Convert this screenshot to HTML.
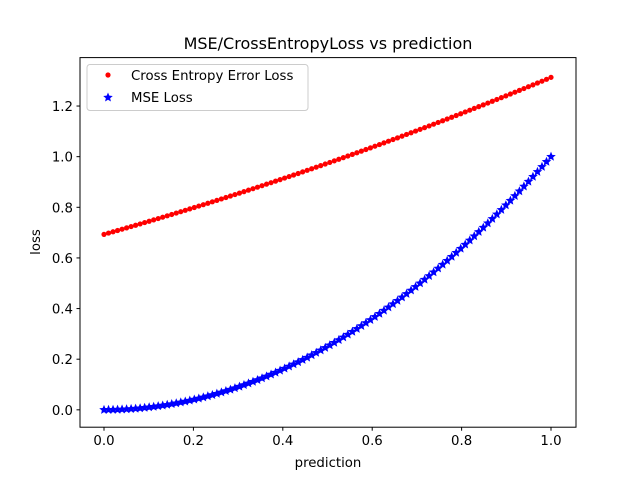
<!DOCTYPE html>
<html><head><meta charset="utf-8"><style>
body{margin:0;background:#fff;}
svg{display:block;font-family:"DejaVu Sans","Liberation Sans",sans-serif;}
</style></head><body>
<svg id="chart" width="640" height="480" xmlns="http://www.w3.org/2000/svg">
<rect width="640" height="480" fill="#fff"/>
<text x="328" y="49" font-size="16" text-anchor="middle">MSE/CrossEntropyLoss vs prediction</text>
<g id="axes"></g>
<g id="series"></g>
<rect x="80" y="57.6" width="496" height="369.6" fill="none" stroke="#000" stroke-width="1"/>
<text x="328" y="467" font-size="13.3" text-anchor="middle">prediction</text>
<text x="40" y="242" font-size="13.3" text-anchor="middle" transform="rotate(-90 40 242)">loss</text>
<g>
<rect x="87" y="64.5" width="221" height="46" rx="3" fill="#fff" fill-opacity="0.8" stroke="#ccc" stroke-width="1"/>
<circle cx="108" cy="75" r="2.6" fill="#f00"/>
<text x="131" y="80" font-size="13.3">Cross Entropy Error Loss</text>
<polygon id="lgstar" fill="#00f"/>
<text x="131" y="102" font-size="13.3">MSE Loss</text>
</g>
</svg>
<script>
const xTicks=[0,0.2,0.4,0.6,0.8,1.0];
const xTickLabels=["0.0","0.2","0.4","0.6","0.8","1.0"];
const yTicks=[0,0.2,0.4,0.6,0.8,1.0,1.2];
const yTickLabels=["0.0","0.2","0.4","0.6","0.8","1.0","1.2"];
const predictions=[0,.0101,.0202,.0303,.0404,.0505,.0606,.0707,.0808,.0909,.1010,.1111,.1212,.1313,.1414,.1515,.1616,.1717,.1818,.1919,.2020,.2121,.2222,.2323,.2424,.2525,.2626,.2727,.2828,.2929,.3030,.3131,.3232,.3333,.3434,.3535,.3636,.3737,.3838,.3939,.4040,.4141,.4242,.4343,.4444,.4545,.4646,.4747,.4848,.4949,.5051,.5152,.5253,.5354,.5455,.5556,.5657,.5758,.5859,.5960,.6061,.6162,.6263,.6364,.6465,.6566,.6667,.6768,.6869,.6970,.7071,.7172,.7273,.7374,.7475,.7576,.7677,.7778,.7879,.7980,.8081,.8182,.8283,.8384,.8485,.8586,.8687,.8788,.8889,.8990,.9091,.9192,.9293,.9394,.9495,.9596,.9697,.9798,.9899,1];
const crossEntropyLoss=[.6931,.6982,.7033,.7084,.7135,.7187,.7239,.7291,.7343,.7397,.7449,.7502,.7555,.7609,.7663,.7717,.7772,.7826,.7881,.7937,.7992,.8048,.8104,.8160,.8217,.8274,.8330,.8387,.8445,.8503,.8560,.8619,.8677,.8736,.8795,.8854,.8914,.8973,.9033,.9093,.9154,.9214,.9275,.9336,.9398,.9460,.9522,.9584,.9646,.9709,.9772,.9835,.9898,.9962,1.0026,1.0090,1.0154,1.0219,1.0283,1.0348,1.0414,1.0479,1.0545,1.0611,1.0677,1.0743,1.0810,1.0877,1.0944,1.1011,1.1079,1.1146,1.1214,1.1283,1.1351,1.1419,1.1488,1.1557,1.1627,1.1696,1.1766,1.1836,1.1906,1.1976,1.2046,1.2117,1.2188,1.2259,1.2331,1.2402,1.2474,1.2546,1.2618,1.2690,1.2764,1.2836,1.2909,1.2982,1.3055,1.3133];
const mseLoss=[0,.0001,.0004,.0009,.0016,.0026,.0037,.0050,.0065,.0083,.0102,.0123,.0147,.0172,.0200,.0230,.0261,.0295,.0331,.0368,.0408,.0450,.0494,.0540,.0588,.0638,.0690,.0744,.0800,.0858,.0918,.0981,.1045,.1111,.1180,.1250,.1322,.1397,.1473,.1552,.1632,.1715,.1800,.1886,.1975,.2066,.2159,.2254,.2351,.2450,.2551,.2654,.2759,.2866,.2975,.3086,.3200,.3315,.3433,.3552,.3673,.3797,.3922,.4050,.4179,.4311,.4444,.4580,.4718,.4858,.5000,.5144,.5289,.5437,.5587,.5739,.5893,.6049,.6208,.6368,.6530,.6694,.6860,.7029,.7199,.7372,.7546,.7723,.7901,.8082,.8264,.8449,.8636,.8825,.9015,.9208,.9403,.9600,.9799,1];

const NS="http://www.w3.org/2000/svg";
const L=80,R=576,T=57.6,B=427.2;
const xmin=-0.0537,xmax=1.0559,ymin=-0.0686,ymax=1.3913;
function sx(v){return L+(v-xmin)/(xmax-xmin)*(R-L);}
function sy(v){return B-(v-ymin)/(ymax-ymin)*(B-T);}
function mk(tag,attrs){const e=document.createElementNS(NS,tag);for(const k in attrs)e.setAttribute(k,attrs[k]);return e;}
function starPts(cx,cy,r){let p=[];for(let k=0;k<10;k++){const a=-Math.PI/2+k*Math.PI/5;const rr=k%2?r*0.45:r;p.push((cx+rr*Math.cos(a)).toFixed(2)+","+(cy+rr*Math.sin(a)).toFixed(2));}return p.join(" ");}
const axes=document.getElementById('axes');
xTicks.forEach((v,i)=>{
  const x=sx(v);
  const t=mk('line',{x1:x,x2:x,y1:B,y2:B+3.5,stroke:'#000'});
  
  
  axes.appendChild(t);
  const lb=mk('text',{x:x,y:B+18,'font-size':'13.3','text-anchor':'middle'});
  lb.textContent=xTickLabels[i];
  
  
  axes.appendChild(lb);
});
yTicks.forEach((v,i)=>{
  const y=sy(v);
  const t=mk('line',{x1:L-3.5,x2:L,y1:y,y2:y,stroke:'#000'});
  
  
  axes.appendChild(t);
  const lb=mk('text',{x:L-7,y:y+5,'font-size':'13.3','text-anchor':'end'});
  lb.textContent=yTickLabels[i];
  
  
  axes.appendChild(lb);
});
const series=document.getElementById('series');
predictions.forEach((p,i)=>{
  const c=mk('circle',{cx:sx(p),cy:sy(crossEntropyLoss[i]),r:2.6,fill:'#f00'});
  
  
  series.appendChild(c);
});
predictions.forEach((p,i)=>{
  const s=mk('polygon',{points:starPts(sx(p),sy(mseLoss[i]),5),fill:'#00f'});
  
  
  series.appendChild(s);
});
document.getElementById('lgstar').setAttribute('points',starPts(108,97.5,5));
</script>
</body></html>
